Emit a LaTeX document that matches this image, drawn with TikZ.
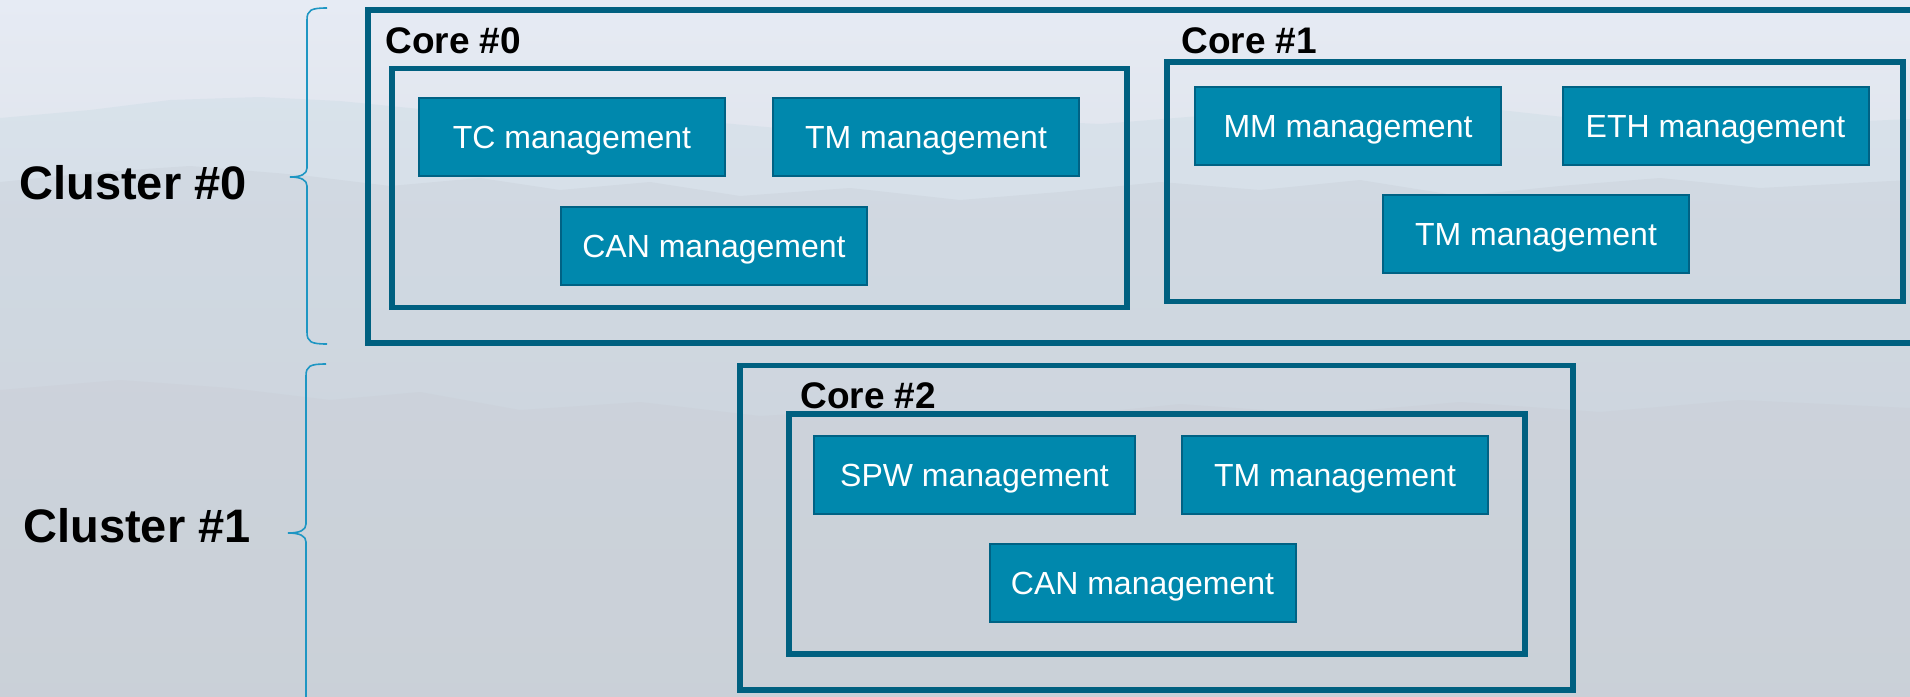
\documentclass[tikz,border=0pt]{standalone}
\usepackage{fontspec}
\setmainfont{Liberation Sans}
\definecolor{skytop}{RGB}{230,235,244}
\definecolor{skymid}{RGB}{216,224,232}
\definecolor{ground}{RGB}{206,209,215}
\definecolor{ridgeA}{RGB}{206,220,230}
\definecolor{ridgeB}{RGB}{200,207,216}
\definecolor{ridgeC}{RGB}{202,206,213}
\definecolor{frameblue}{RGB}{0,96,128}
\definecolor{boxfill}{RGB}{0,136,173}
\definecolor{boxedge}{RGB}{0,98,132}
\definecolor{bracecol}{RGB}{30,150,195}
\tikzset{
  frame/.style={draw=frameblue, line width=2.8pt},
  task/.style={draw=boxedge, line width=1pt, fill=boxfill, text=white,
    minimum width=153pt, minimum height=39pt, inner sep=0pt,
    text height=11.5pt, text depth=0pt,
    font=\fontsize{16}{19}\selectfont},
  corelabel/.style={anchor=base west, inner sep=0pt,
    font=\bfseries\fontsize{18.5}{22}\selectfont},
  clusterlabel/.style={anchor=base west, inner sep=0pt,
    font=\bfseries\fontsize{23.5}{28}\selectfont},
  bracket/.style={draw=bracecol, line width=0.8pt}
}
\begin{document}
\begin{tikzpicture}[x=0.5pt,y=-0.5pt]
\clip (0,0) rectangle (1910,696);

% sky and hazy mountain background
\shade[top color=skytop, middle color=skymid, bottom color=ground]
  (0,0) rectangle (1910,696);
\fill[ridgeA, opacity=0.45] (0,118) -- (90,110) -- (170,100) -- (260,97) -- (340,101)
  -- (430,110) -- (520,118) -- (610,112) -- (700,121) -- (800,130) -- (900,127)
  -- (1000,119) -- (1100,124) -- (1200,116) -- (1300,110) -- (1400,104) -- (1500,110)
  -- (1600,121) -- (1700,116) -- (1800,124) -- (1910,119) -- (1910,696) -- (0,696) -- cycle;
\fill[ridgeB, opacity=0.4] (0,182) -- (100,172) -- (190,166) -- (300,175) -- (390,186)
  -- (480,178) -- (560,190) -- (650,182) -- (740,196) -- (850,188) -- (960,200)
  -- (1060,192) -- (1160,182) -- (1260,190) -- (1360,180) -- (1460,196) -- (1560,186)
  -- (1660,178) -- (1760,188) -- (1910,180) -- (1910,696) -- (0,696) -- cycle;
\fill[ridgeC, opacity=0.4] (0,390) -- (120,380) -- (230,388) -- (330,400) -- (420,392)
  -- (520,410) -- (640,402) -- (760,416) -- (900,408) -- (1040,418) -- (1180,404)
  -- (1320,414) -- (1460,402) -- (1600,412) -- (1740,400) -- (1910,408)
  -- (1910,696) -- (0,696) -- cycle;

% cluster #0
\draw[frame] (368,10) rectangle (1930,343);
\draw[frame] (392,68.5) rectangle (1127,307.5);
\draw[frame] (1167,62) rectangle (1903,301.5);
\node[corelabel] (c0lab) at (385,54) {Core \#0};
\node[corelabel] (c1lab) at (1181,54) {Core \#1};
\node[task] (tc0)  at (572,137)    {TC management};
\node[task] (tm0)  at (926,136.5)  {TM management};
\node[task] (can0) at (714,245.5)  {CAN management};
\node[task] (mm1)  at (1348,126)   {MM management};
\node[task] (eth1) at (1715.5,126) {ETH management};
\node[task] (tm1)  at (1536,234)   {TM management};

% cluster #1
\draw[frame] (740,365.5) rectangle (1573,690);
\draw[frame] (789,414) rectangle (1525,654);
\node[corelabel] (c2lab) at (800,408) {Core \#2};
\node[task, minimum width=160.5pt] (spw2) at (974.5,474.5) {SPW management};
\node[task] (tm2)  at (1335,474.5) {TM management};
\node[task] (can2) at (1142.5,583) {CAN management};

% cluster labels and braces
\node[clusterlabel] (cl0) at (19,199) {Cluster \#0};
\node[clusterlabel] (cl1) at (23,542) {Cluster \#1};
\draw[bracket] (327,8) .. controls (311,8) and (307,10) .. (307,20) -- (307,168)
  .. controls (307,174) and (301,177) .. (290,177)
  .. controls (301,177) and (307,180) .. (307,186) -- (307,332)
  .. controls (307,342) and (311,344) .. (327,344);
\draw[bracket] (326,364) .. controls (310,364) and (306,366) .. (306,376) -- (306,524)
  .. controls (306,530) and (300,533) .. (288,533)
  .. controls (300,533) and (306,536) .. (306,542) -- (306,700);
\end{tikzpicture}
\end{document}
